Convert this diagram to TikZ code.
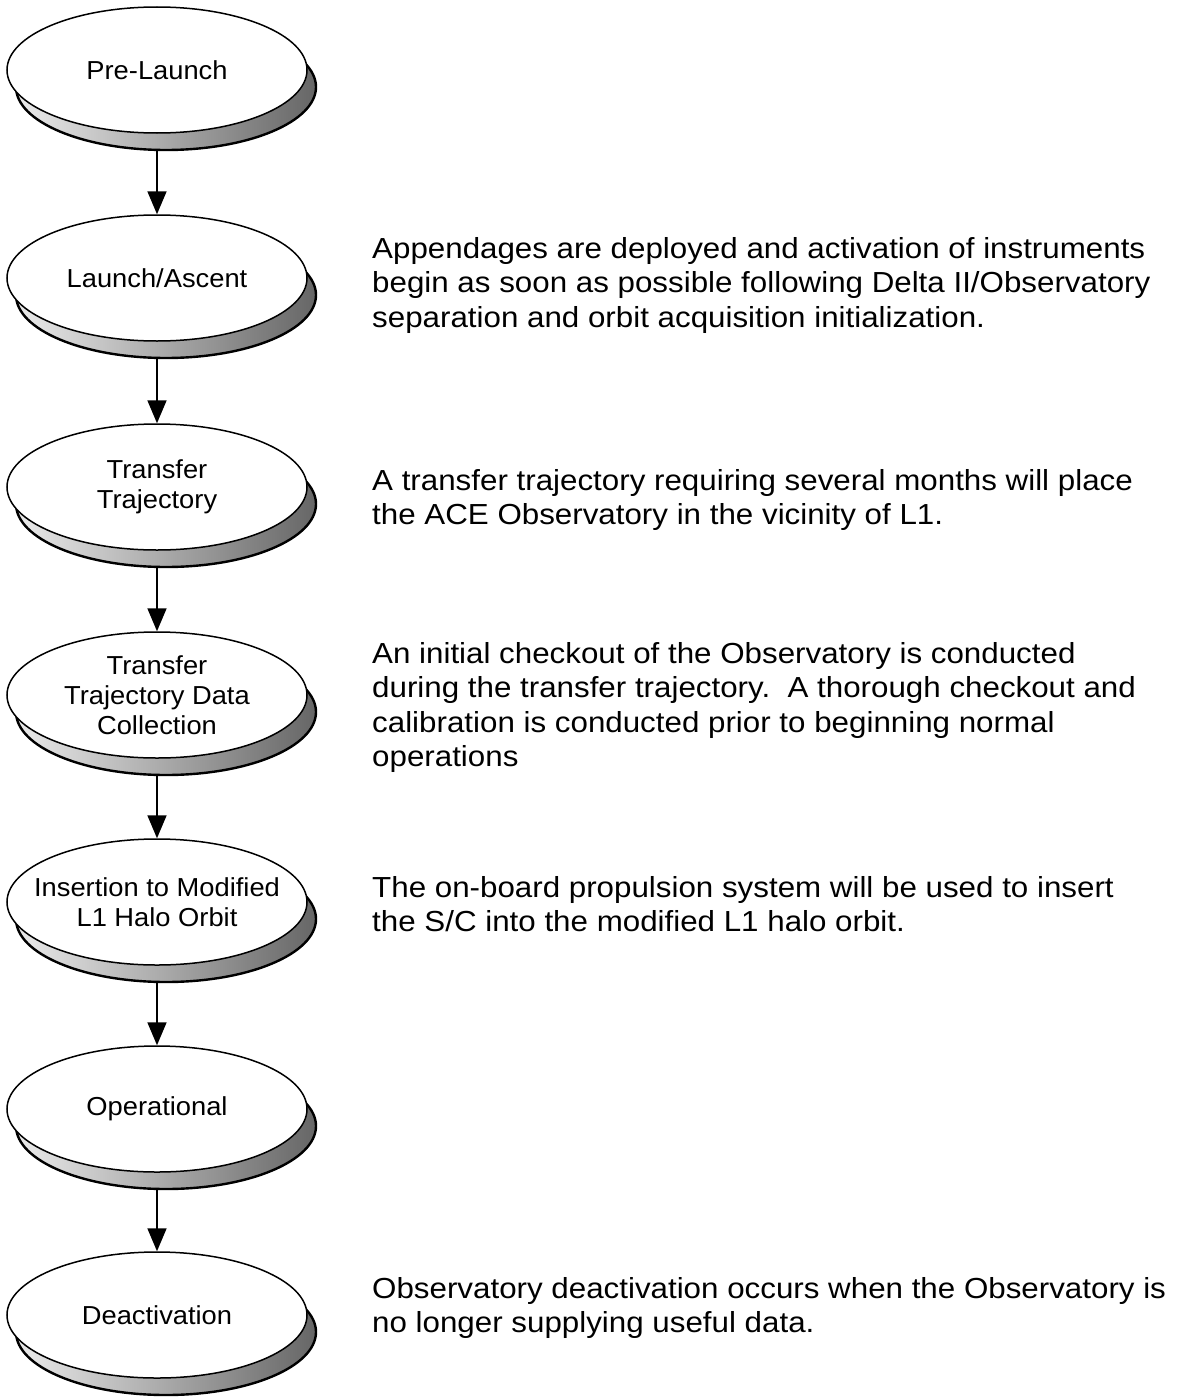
\documentclass[tikz,border=0pt]{standalone}
\usepackage{fontspec}
\setmainfont{Liberation Sans}
\newfontfamily\notefont{Liberation Sans}[FakeStretch=1.08]
\newfontfamily\phasefont{Liberation Sans}[FakeStretch=1.05]
\usetikzlibrary{shapes.geometric,shadows,arrows.meta}
\begin{document}
\begin{tikzpicture}[x=1pt,y=-1pt,
  phase/.style={ellipse, draw=black, line width=1.5pt, fill=white,
    minimum width=300pt, minimum height=126pt, inner xsep=-60pt, inner ysep=-15pt,
    align=center, font=\phasefont\fontsize{26}{30}\selectfont,
    general shadow={shadow xshift=9pt, shadow yshift=-17pt,
      left color=black!8, right color=black!60, draw=black, line width=2.4pt}},
  flow/.style={-{Triangle[length=23pt,width=19pt]}, line width=1.8pt, shorten <=17pt},
  note/.style={anchor=north west, inner sep=0pt, align=left,
    font=\notefont\fontsize{29}{34.5}\selectfont}]
\useasboundingbox (0,0) rectangle (1197,1397);
\node[phase] (n1) at (157,70) {Pre-Launch};
\node[phase] (n2) at (157,278) {Launch/Ascent};
\node[phase] (n3) at (157,487) {Transfer\\Trajectory};
\node[phase] (n4) at (157,695) {Transfer\\Trajectory Data\\Collection};
\node[phase] (n5) at (157,902) {Insertion to Modified\\L1 Halo Orbit};
\node[phase] (n6) at (157,1109) {Operational};
\node[phase] (n7) at (157,1315) {Deactivation};
\draw[flow] (n1.south) -- (n2.north);
\draw[flow] (n2.south) -- (n3.north);
\draw[flow] (n3.south) -- (n4.north);
\draw[flow] (n4.south) -- (n5.north);
\draw[flow] (n5.south) -- (n6.north);
\draw[flow] (n6.south) -- (n7.north);
\node[note] (t1) at (372,237) {Appendages are deployed and activation of instruments\\begin as soon as possible following Delta II/Observatory\\separation and orbit acquisition initialization.};
\node[note] (t2) at (372,469) {A transfer trajectory requiring several months will place\\the ACE Observatory in the vicinity of L1.};
\node[note] (t3) at (372,642) {An initial checkout of the Observatory is conducted\\during the transfer trajectory.\ \ A thorough checkout and\\calibration is conducted prior to beginning normal\\operations};
\node[note] (t4) at (372,876) {The on-board propulsion system will be used to insert\\the S/C into the modified L1 halo orbit.};
\node[note] (t5) at (372,1277) {Observatory deactivation occurs when the Observatory is\\no longer supplying useful data.};
\end{tikzpicture}
\end{document}
